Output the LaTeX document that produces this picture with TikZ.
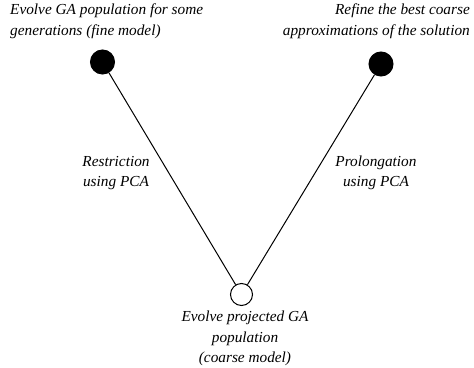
\documentclass[tikz,border=0pt]{standalone}
\usepackage{fontspec}
\setmainfont{Liberation Serif}
\begin{document}
\begin{tikzpicture}[x=1pt,y=1pt,
  lbl/.style={font=\fontsize{15.3}{20.5}\selectfont\itshape, inner sep=0pt},
  dot/.style={circle, draw, line width=1pt, minimum size=24pt, inner sep=0pt}]
\useasboundingbox (0,0) rectangle (474,367);
\node[dot, fill=black] (L) at (102.5,305) {};
\node[dot, fill=black] (R) at (381,303) {};
\node[dot, fill=white, minimum size=22pt] (B) at (241.5,72.5) {};
\draw[line width=1pt] (L) -- (B);
\draw[line width=1pt] (R) -- (B);
\node[lbl, align=left, anchor=north west] (tl) at (10,363) {Evolve GA population for some\\generations (fine model)};
\node[lbl, align=right, anchor=north east] (tr) at (470,363) {Refine the best coarse\\approximations of the solution};
\node[lbl, align=center] (rl) at (116,194) {Restriction\\using PCA};
\node[lbl, align=center] (pl) at (376,194) {Prolongation\\using PCA};
\node[lbl, align=center, anchor=north] (bl) at (245,56) {Evolve projected GA\\population\\(coarse model)};
\end{tikzpicture}
\end{document}
